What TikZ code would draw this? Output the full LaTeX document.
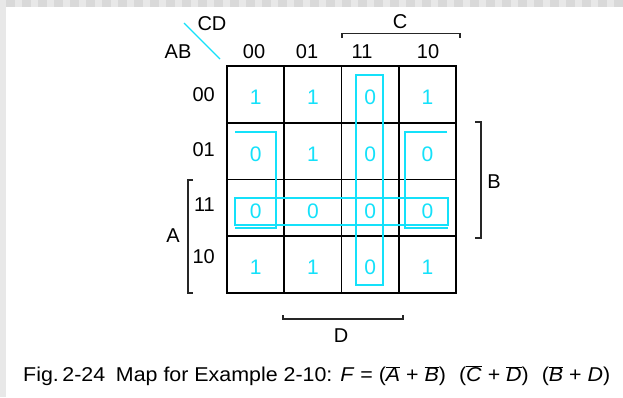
\documentclass[tikz,border=0pt]{standalone}
\usepackage{fontspec}
\setmainfont{Liberation Sans}
\definecolor{loopcyan}{RGB}{20,225,250}
\definecolor{stripdark}{RGB}{217,217,217}
\definecolor{striplight}{RGB}{232,232,232}
\newcommand{\ovl}[1]{$\overline{\mbox{\textit{#1}}}$}

\begin{document}
\begin{tikzpicture}[x=1pt,y=-1pt,
        cell/.style={
            rectangle,
            draw,
            line width=1.7pt,
            minimum width=57.25pt,
            minimum height=56.75pt,
            inner sep=0pt
        },
        lbl/.style={
            font=\fontsize{20}{20}\selectfont,
            inner sep=0pt
        },
        val/.style={
            font=\fontsize{21}{21}\selectfont,
            text=loopcyan,
            inner sep=0pt
        },
        grp/.style={
            draw=loopcyan,
            line width=1.4pt
        },
        brace/.style={
            draw=black!85,
            line width=1.6pt
        }
    ]

        % page and grey strips
        \useasboundingbox (0,0) rectangle (623,397);
        \fill[white] (0,0) rectangle (623,397);
        \fill[striplight] (0,0) rectangle (6,397);
        \fill[striplight] (6,0) rectangle (623,7);
        \foreach \i in {0,...,38}
            \fill[stripdark] ({6+16*\i},0) rectangle ({15+16*\i},7);

        % map cells
        \foreach \r [count=\i from 0] in {00,01,11,10}
            \foreach \c [count=\j from 0] in {00,01,11,10}
                \node[cell] (c\r\c) at ({255.6+57.25*\j},{94.4+56.75*\i}) {};

        \foreach \r/\vals in {00/{1,1,0,1},01/{0,1,0,0},11/{0,0,0,0},10/{1,1,0,1}}
            \foreach \v [count=\j from 0] in \vals {
                \pgfmathsetmacro{\cc}{{"00","01","11","10"}[\j]}
                \node[val] (v\r\cc) at ([yshift=-3pt]c\r\cc.center) {\v};
            }

        % variable labels
        \node[lbl] (cd) at (212,24) {CD};
        \node[lbl] (ab) at (178,52) {AB};
        \draw[loopcyan, line width=1.4pt] (184,23) -- (220,59);

        \node[lbl] (col00) at (254,52) {00};
        \node[lbl] (col01) at (307,52) {01};
        \node[lbl] (col11) at (362,52) {11};
        \node[lbl] (col10) at (428,52) {10};

        \node[lbl, anchor=east] (row00) at (215,95) {00};
        \node[lbl, anchor=east] (row01) at (215,150) {01};
        \node[lbl, anchor=east] (row11) at (215,205) {11};
        \node[lbl, anchor=east] (row10) at (215,257) {10};

        % brackets
        \draw[brace] (342,38) -- (342,33.5) -- (460,33.5) -- (460,38);
        \node[lbl] (varC) at (400,22) {C};
        \draw[brace] (475,122) -- (481,122) -- (481,238) -- (475,238);
        \node[lbl] (varB) at (494,182) {B};
        \draw[brace] (193,180) -- (188,180) -- (188,293) -- (193,293);
        \node[lbl] (varA) at (173,236) {A};
        \draw[brace] (283,315) -- (283,319) -- (403,319) -- (403,315);
        \node[lbl] (varD) at (341,336) {D};

        % groups of zeros
        \draw[grp] (356,75) rectangle (383,285);
        \draw[grp] (235,198) rectangle (448,225);
        \draw[grp] (235,132) -- (276,132) -- (276,228) -- (235,228);
        \draw[grp] (447,132) -- (405,132) -- (405,228) -- (448,228);

        % caption
        \node[lbl, anchor=west] (caption) at (23,376)
            {\scalebox{1.07}[1]{Fig.\,2-24\enspace Map for Example 2-10: \textit{F} = (\ovl{A} + \ovl{B})\,\, (\ovl{C} + \ovl{D})\,\, (\ovl{B} + \textit{D})}};

    \end{tikzpicture}
\end{document}
